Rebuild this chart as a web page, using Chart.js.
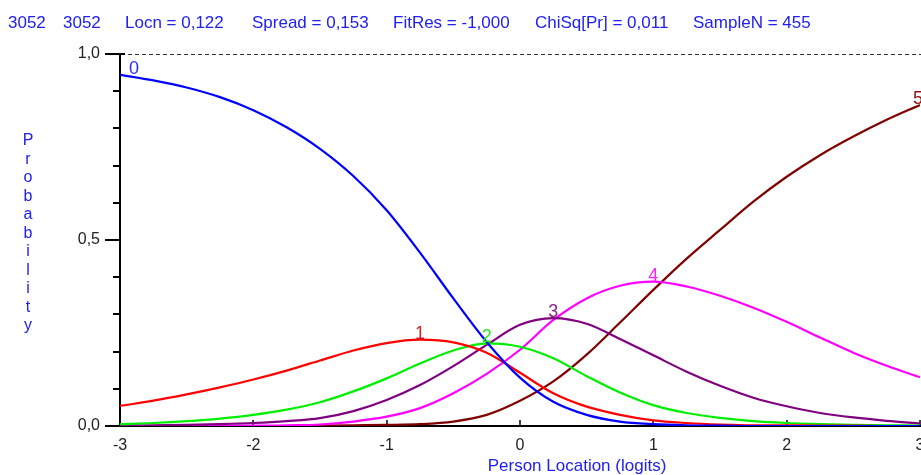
<!DOCTYPE html>
<html lang="en">
<head>
  <meta charset="UTF-8">
  <title>Category Probability Curves</title>
  <script src="https://cdn.jsdelivr.net/npm/chart.js@4.4.1/dist/chart.umd.min.js"></script>
  <style>
    body {
      margin: 0;
      background: #fff;
    }
    #chart {
      display: block;
    }
  </style>
</head>
<body>
  <canvas id="chart" width="921" height="475"></canvas>

  <script>
    // header line of the plot
    const headerParts = ['3052', '3052', 'Locn = 0,122', 'Spread = 0,153', 'FitRes = -1,000', 'ChiSq[Pr] = 0,011', 'SampleN = 455'];
    const yTitle = 'Probability';
    const xTitle = 'Person Location (logits)';
    const categories = ['0', '1', '2', '3', '4', '5'];

    // person locations (logits) where the curves were read
    const locations = [-3, -2.75, -2.5, -2.25, -2, -1.75, -1.5, -1.25, -1, -0.75, -0.5, -0.25, 0,
                       0.25, 0.5, 0.75, 1, 1.25, 1.5, 1.75, 2, 2.25, 2.5, 2.75, 3];
    const cat0 = [0.944, 0.929, 0.910, 0.884, 0.849, 0.803, 0.745, 0.672, 0.580, 0.466, 0.343, 0.226, 0.130,
                  0.065, 0.030, 0.012, 0.005, 0.002, 0.001, 0, 0, 0, 0, 0, 0];
    const cat1 = [0.054, 0.068, 0.085, 0.104, 0.125, 0.149, 0.176, 0.203, 0.223, 0.232, 0.225, 0.197, 0.143,
                  0.088, 0.052, 0.030, 0.015, 0.008, 0.004, 0.002, 0.002, 0.001, 0.001, 0, 0];
    const cat2 = [0.005, 0.008, 0.013, 0.020, 0.030, 0.044, 0.064, 0.093, 0.128, 0.168, 0.203, 0.222, 0.213,
                  0.182, 0.134, 0.090, 0.056, 0.035, 0.022, 0.013, 0.008, 0.005, 0.003, 0.002, 0.001];
    const cat3 = [0.001, 0.002, 0.003, 0.005, 0.008, 0.013, 0.021, 0.040, 0.070, 0.110, 0.161, 0.218, 0.272,
                  0.290, 0.275, 0.234, 0.190, 0.146, 0.108, 0.076, 0.053, 0.035, 0.023, 0.014, 0.007];
    const cat4 = [0, 0, 0, 0.001, 0.001, 0.002, 0.004, 0.012, 0.025, 0.048, 0.088, 0.140, 0.205,
                  0.285, 0.343, 0.377, 0.388, 0.375, 0.350, 0.318, 0.280, 0.238, 0.197, 0.162, 0.131];
    const cat5 = [0, 0, 0, 0, 0, 0, 0.001, 0.002, 0.003, 0.005, 0.012, 0.030, 0.068,
                  0.120, 0.192, 0.278, 0.366, 0.450, 0.527, 0.603, 0.670, 0.728, 0.778, 0.823, 0.863];
    const series = [cat0, cat1, cat2, cat3, cat4, cat5];

    const lineColors = ['#0000ff', '#ff0000', '#00ee00', '#800080', '#ff00ff', '#800000'];
    const labelColors = ['#2a2aff', '#c02828', '#22ee22', '#8a208a', '#ff22ff', '#8a1010'];
    const blue = '#2020f0';
    const font = 'Arial, "Liberation Sans", sans-serif';

    const decor = {
      id: 'decor',
      beforeDatasetsDraw(chart) {
        const ctx = chart.ctx, xs = chart.scales.x, ys = chart.scales.y;
        const {left, bottom} = chart.chartArea;
        ctx.save();
        // dashed line at 1,0
        ctx.strokeStyle = '#333';
        ctx.lineWidth = 1;
        ctx.setLineDash([4, 3]);
        const y1 = Math.round(ys.getPixelForValue(1)) + 0.5;
        ctx.beginPath();
        ctx.moveTo(left + 8, y1);
        ctx.lineTo(chart.width, y1);
        ctx.stroke();
        ctx.setLineDash([]);
        // y ticks, major every 0,5 and minor every 0,1
        ctx.strokeStyle = '#000';
        ctx.lineWidth = 2;
        for (let i = 0; i <= 10; i++) {
          const py = Math.round(ys.getPixelForValue(i / 10));
          const major = i % 5 === 0;
          ctx.beginPath();
          ctx.moveTo(left - (major ? 15 : 7), py);
          ctx.lineTo(left + (i === 10 ? 5 : 0), py);
          ctx.stroke();
        }
        // x ticks pointing into the plot
        ctx.lineWidth = 1.5;
        xs.ticks.forEach(t => {
          const px = Math.round(xs.getPixelForValue(t.value));
          ctx.beginPath();
          ctx.moveTo(px, bottom - 6);
          ctx.lineTo(px, bottom + 1);
          ctx.stroke();
        });
        ctx.restore();
      },
      afterDraw(chart) {
        const ctx = chart.ctx, xs = chart.scales.x, ys = chart.scales.y;
        ctx.save();
        // category number above the peak of each curve
        ctx.font = '18px ' + font;
        ctx.textBaseline = 'alphabetic';
        ctx.textAlign = 'center';
        series.forEach((vals, k) => {
          let idx = 0;
          vals.forEach((v, i) => { if (v > vals[idx]) idx = i; });
          let px = xs.getPixelForValue(locations[idx]);
          if (idx === 0) px += 14;
          if (idx === vals.length - 1) px -= 2;
          const py = ys.getPixelForValue(vals[idx]) - 1;
          ctx.fillStyle = labelColors[k];
          ctx.fillText(categories[k], px, py);
        });
        // header
        ctx.fillStyle = blue;
        ctx.font = '17px ' + font;
        ctx.textAlign = 'left';
        const headerX = [8, 63, 125, 252, 393, 535, 693];
        headerParts.forEach((s, i) => ctx.fillText(s, headerX[i], 28));
        // vertical y title, one letter per line
        ctx.font = '16px ' + font;
        ctx.textAlign = 'center';
        yTitle.split('').forEach((c, i) => ctx.fillText(c, 28, 145 + i * 18.5));
        // x title
        ctx.font = '17px ' + font;
        ctx.fillText(xTitle, 577, 471);
        ctx.restore();
      }
    };

    new Chart(document.getElementById('chart'), {
      type: 'line',
      data: {
        datasets: series.map((vals, k) => ({
          label: categories[k],
          data: vals.map((v, i) => ({x: locations[i], y: v})),
          borderColor: lineColors[k],
          borderWidth: 2.2,
          pointRadius: 0,
          cubicInterpolationMode: 'monotone',
          fill: false
        }))
      },
      options: {
        responsive: false,
        animation: false,
        devicePixelRatio: 1,
        layout: {padding: {top: 54, right: 1, left: 0, bottom: 0}},
        plugins: {legend: {display: false}, tooltip: {enabled: false}},
        scales: {
          x: {
            type: 'linear',
            min: -3,
            max: 3,
            ticks: {stepSize: 1, color: '#222', padding: 10, font: {size: 16, family: font},
                    callback: v => String(v)},
            grid: {display: false, drawTicks: false},
            border: {display: true, color: '#000', width: 2},
            afterFit(s) { s.height = 49; s.paddingLeft = 0; s.paddingRight = 0; }
          },
          y: {
            min: 0,
            max: 1,
            ticks: {stepSize: 0.5, color: '#222', padding: 20, font: {size: 16, family: font},
                    callback: v => v.toFixed(1).replace('.', ',')},
            grid: {display: false, drawTicks: false},
            border: {display: true, color: '#000', width: 2},
            afterFit(s) { s.width = 120; s.paddingTop = 0; s.paddingBottom = 0; }
          }
        }
      },
      plugins: [decor]
    });
  </script>
</body>
</html>
